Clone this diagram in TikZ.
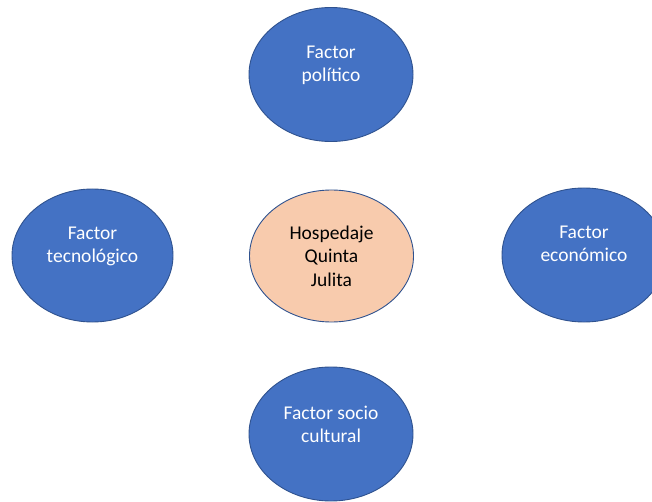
\documentclass[tikz,border=0pt]{standalone}
\usepackage{fontspec}
\setmainfont{Carlito}
\usetikzlibrary{shapes.geometric}
\definecolor{factorblue}{HTML}{4472C4}
\definecolor{factoredge}{HTML}{2F528F}
\definecolor{hotelfill}{HTML}{F8CBAD}

\begin{document}
\begin{tikzpicture}[x=1pt,y=-1pt,
    factor/.style={ellipse,draw=factoredge,fill=factorblue,line width=0.9pt,
        minimum width=164pt,minimum height=134pt,inner sep=0pt},
    factortext/.style={text=white,align=center,
        font=\fontsize{19.5}{23}\selectfont,yshift=9.5pt}]
            % fix the page
            \clip (0,0) rectangle (652,502);

            % the hotel in the middle
            \node[factor,fill=hotelfill,align=center,
                font=\fontsize{19.5}{23.5}\selectfont,minimum height=132pt]
                (hotel) at (331.5,256) {Hospedaje\\Quinta\\Julita};

            % the four factors round it
            \node[factor,label={[factortext]center:Factor\\político}]
                (politico) at (331,74.5) {};
            \node[factor,minimum width=161pt,minimum height=133pt,
                label={[factortext]center:Factor\\tecnológico}]
                (tecnologico) at (92.5,255.5) {};
            \node[factor,label={[factortext,yshift=2pt]center:Factor\\económico}]
                (economico) at (584,255) {};
            \node[factor,label={[factortext]center:Factor socio\\cultural}]
                (sociocultural) at (331,434) {};
\end{tikzpicture}
\end{document}
